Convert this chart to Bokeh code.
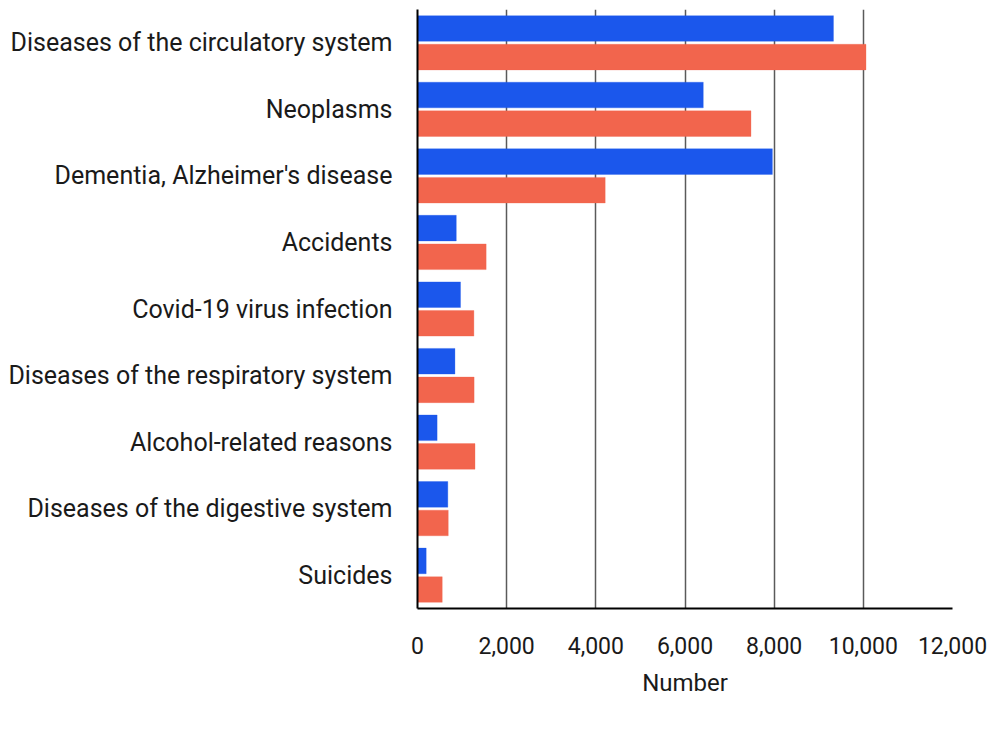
from bokeh.plotting import figure
from bokeh.layouts import column
from bokeh.models import ColumnDataSource, Range1d, FixedTicker, NumeralTickFormatter, Legend, LegendItem
from bokeh.transform import dodge
from bokeh.embed import file_html
from bokeh.resources import INLINE

categories = [
    "Diseases of the circulatory system",
    "Neoplasms",
    "Dementia, Alzheimer's disease",
    "Accidents",
    "Covid-19 virus infection",
    "Diseases of the respiratory system",
    "Alcohol-related reasons",
    "Diseases of the digestive system",
    "Suicides",
]
women = [9330, 6410, 7960, 870, 965, 840, 440, 680, 195]
men = [10060, 7480, 4210, 1540, 1265, 1270, 1290, 690, 555]
x_ticks = [0, 2000, 4000, 6000, 8000, 10000, 12000]
series_names = ["Women", "Men"]

FONT = "Roboto"
TXT = "#1a1a1a"
BLUE = "#1b57ec"
RED = "#f2654d"

source = ColumnDataSource(dict(cat=categories, women=women, men=men))

p = figure(
    width=990, height=704,
    y_range=list(reversed(categories)),
    x_range=Range1d(0, 12000),
    output_backend="svg", toolbar_location=None,
    min_border_left=417, min_border_right=38, min_border_top=9, min_border_bottom=96,
)

p.hbar(y=dodge("cat", 0.215, range=p.y_range), right="women", left=0, height=0.385,
       source=source, fill_color=BLUE, line_color=BLUE, line_alpha=0.3)
p.hbar(y=dodge("cat", -0.215, range=p.y_range), right="men", left=0, height=0.385,
       source=source, fill_color=RED, line_color=RED, line_alpha=0.3)

p.outline_line_color = None
p.ygrid.grid_line_color = None
p.xgrid.grid_line_color = "#5a5a5a"
p.xgrid.grid_line_width = 1.5
p.xaxis.ticker = FixedTicker(ticks=x_ticks)
p.xaxis.formatter = NumeralTickFormatter(format="0,0")

for ax in (p.xaxis, p.yaxis):
    ax.axis_line_color = "black"
    ax.axis_line_width = 2
    ax.major_tick_line_color = None
    ax.minor_tick_line_color = None
    ax.major_tick_out = 0
    ax.major_tick_in = 0
    ax.minor_tick_out = 0
    ax.major_label_text_font = FONT
    ax.major_label_text_color = TXT

p.yaxis.major_label_text_font_size = "25px"
p.yaxis.major_label_standoff = 25
p.xaxis.major_label_text_font_size = "23px"
p.xaxis.major_label_standoff = 28
p.xaxis.axis_label = "Number"
p.xaxis.axis_label_text_font = FONT
p.xaxis.axis_label_text_font_size = "24px"
p.xaxis.axis_label_text_font_style = "normal"
p.xaxis.axis_label_text_color = TXT
p.xaxis.axis_label_standoff = 12

# legend strip below the chart (ranges in pixels so the legend location is in pixels)
lf = figure(
    width=990, height=29, x_range=Range1d(0, 990), y_range=Range1d(0, 29),
    x_axis_type=None, y_axis_type=None,
    output_backend="svg", toolbar_location=None, min_border=0,
)
lf.outline_line_color = None
lf.grid.visible = False
lw = lf.hbar(y=[], right=[], left=0, height=0.5, fill_color=BLUE, line_color=BLUE, line_alpha=0.3)
lm = lf.hbar(y=[], right=[], left=0, height=0.5, fill_color=RED, line_color=RED, line_alpha=0.3)

legend = Legend(
    items=[LegendItem(label=series_names[0], renderers=[lw]), LegendItem(label=series_names[1], renderers=[lm])],
    location=(563, 0), orientation="horizontal",
    glyph_width=14, glyph_height=14, label_standoff=8, spacing=46,
    padding=0, margin=0, border_line_color=None, background_fill_alpha=0,
    label_text_font=FONT, label_text_font_size="24px", label_text_color=TXT,
)
lf.add_layout(legend, "center")

layout = column(p, lf, spacing=0)
open("out.html", "w").write(file_html(layout, INLINE))
